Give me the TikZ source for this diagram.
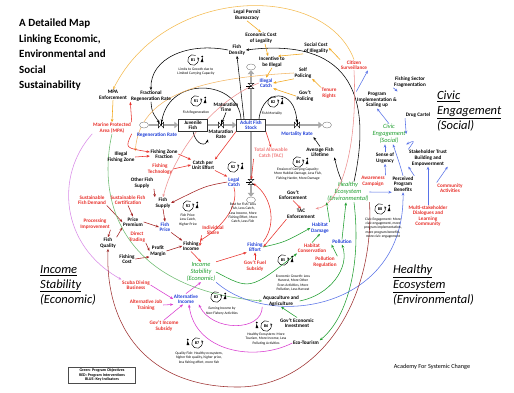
\documentclass[tikz,border=0pt]{standalone}
\usepackage{fontspec}
\setmainfont{Carlito}
\usetikzlibrary{arrows.meta,shapes.geometric}
\pgfdeclarelayer{bg}
\pgfdeclarelayer{paper}
\pgfsetlayers{paper,bg,main}
\definecolor{cred}{HTML}{E8302A}
\definecolor{cblue}{HTML}{1F3FD8}
\definecolor{cgreen}{HTML}{1E9E2E}
\definecolor{corange}{HTML}{F2A516}
\definecolor{cdred}{HTML}{A31F1F}
\definecolor{cmag}{HTML}{D93BD0}
\definecolor{carblue}{HTML}{5872E8}
\definecolor{cpipe}{HTML}{A9A9A9}
\definecolor{lpeach}{HTML}{F4B866}
\definecolor{lpink}{HTML}{EE9090}
\definecolor{lgreen}{HTML}{6DBB70}
\definecolor{lviolet}{HTML}{D98BE8}
\definecolor{cbrown}{HTML}{9E3030}
\definecolor{ctac}{HTML}{F07A7A}
\tikzset{
 v/.style={font=\fontsize{5.2}{5.6}\selectfont\bfseries, align=center, inner sep=0.6pt},
 rv/.style={v, text=cred},
 bv/.style={v, text=cblue},
 gv/.style={font=\fontsize{6.4}{6.9}\selectfont\itshape, align=center, text=cgreen, inner sep=0.6pt},
 desc/.style={font=\fontsize{3.6}{4.1}\selectfont, align=center, inner sep=0pt},
 cloudn/.style={ellipse, draw=gray, fill=white, line width=0.4pt, minimum width=9pt, minimum height=6pt, inner sep=0pt},
 stock/.style={v, draw=black!80, line width=0.5pt, fill=white, minimum width=29pt, minimum height=12pt},
 lk/.style={-{Stealth[length=3.2pt,width=2.6pt]}, line width=0.55pt},
 aBlk/.style={lk, black},
 aOrg/.style={lk, corange},
 aRed/.style={lk, cred},
 aDred/.style={lk, cdred},
 aMag/.style={lk, cmag},
 aGrn/.style={lk, cgreen},
 aBlu/.style={lk, carblue},
 aPeach/.style={lk, lpeach},
 aPink/.style={lk, lpink},
 aLgrn/.style={lk, lgreen},
 aViol/.style={lk, lviolet},
 aBrn/.style={lk, cbrown},
 tov/.style={shorten >=2.5pt},
 pipe/.style={line width=2.6pt, cpipe, -{Triangle[length=4pt,width=6.5pt]}},
 side/.style={font=\fontsize{12.5}{15}\selectfont\itshape, align=left, anchor=north west, inner sep=0pt},
 valveh/.pic={\draw[line width=0.4pt, fill=white] (-2.6,2.8) -- (2.6,-2.8) -- (2.6,2.8) -- (-2.6,-2.8) -- cycle;
   \draw[line width=0.4pt] (0,0) -- (0,5);},
 looppic/.pic={\draw[black, line width=0.45pt, -{Stealth[length=2pt,width=2pt]}] (60:5.3) arc (60:390:5.3);
   \node[font=\fontsize{4.2}{4.2}\selectfont\bfseries, inner sep=0pt] {#1};
   \fill (7.6,-2) -- (10.4,-2) -- (9.4,2.2) -- cycle; \fill (9.2,3.4) circle (1);},
 looppicl/.pic={\draw[black, line width=0.45pt, -{Stealth[length=2pt,width=2pt]}] (60:5.3) arc (60:390:5.3);
   \node[font=\fontsize{4.2}{4.2}\selectfont\bfseries, inner sep=0pt] {#1};
   \fill (-7.6,-2) -- (-10.4,-2) -- (-9.4,2.2) -- cycle; \fill (-9.2,3.4) circle (1);},
}
\begin{document}
\begin{tikzpicture}[x=1pt,y=1pt]
\begin{pgfonlayer}{paper}
\fill[white] (0,0) rectangle (514,-392);
\end{pgfonlayer}
\useasboundingbox (0,0) rectangle (514,-392);

% titles
\node[anchor=north west, font=\fontsize{11}{15.4}\selectfont\bfseries, align=left, inner sep=0pt] (title) at (19,-19) {A Detailed Map\\Linking Economic,\\Environmental and\\Social\\Sustainability};
\node[side] (sideE) at (40,-265) {\underline{Income}\\\underline{Stability}\\(Economic)};
\node[side] (sideH) at (393,-265) {\underline{Healthy}\\\underline{Ecosystem}\\(Environmental)};
\node[side] (sideC) at (437,-91) {\underline{Civic}\\\underline{Engagement}\\(Social)};
\node[draw=black!70, line width=0.4pt, font=\fontsize{4}{4.8}\selectfont\bfseries, align=center, inner sep=1.5pt, minimum width=67pt] (legend) at (102,-375) {Green: Program Objectives\\RED: Program Interventions\\BLUE: Key Indicators};
\node[font=\fontsize{6.2}{6.5}\selectfont] (acad) at (432,-367) {Academy For Systemic Change};

% variables
\node[v] (lpb) at (247,-15) {Legal Permit\\Bureacracy};
\node[v] (ecl) at (261,-38) {Economic Cost\\of Legality};
\node[v] (fd) at (237,-50) {Fish\\Density};
\node[v] (scl) at (316,-48) {Social Cost\\of Illegality};
\node[rv] (cit) at (354,-65) {Citizen\\Surveillance};
\node[v] (iti) at (272,-62) {Incentive to\\be Illegal};
\node[v] (sp) at (303,-73) {Self\\Policing};
\node[bv] (ic) at (266,-83) {Illegal\\Catch};
\node[v] (gp) at (305,-96) {Gov't\\Policing};
\node[rv] (tr) at (329,-93) {Tenure\\Rights};
\node[v] (mpae) at (113,-95) {MPA\\Enforcement};
\node[v] (frr) at (151,-96) {Fractional\\Regeneration Rate};
\node[v] (mt) at (226,-107) {Maturation\\Time};
\node[rv] (mpa) at (112,-128) {Marine Protected\\Area (MPA)};
\node[stock] (jf) at (193,-125) {Juvenile\\Fish};
\node[stock, text=cblue] (afs) at (251,-125) {Adult Fish\\Stock};
\node[bv] (rr) at (157,-135) {Regeneration Rate};
\node[v] (mr) at (221,-134) {Maturation\\Rate};
\node[bv] (mor) at (297,-134) {Mortality Rate};
\node[v] (ifz) at (121,-157) {Illegal\\Fishing Zone};
\node[v] (fzf) at (164,-154) {Fishing Zone\\Fraction};
\node[rv] (ft) at (160,-169) {Fishing\\Technology};
\node[v] (cpue) at (203,-165) {Catch per\\Unit Effort};
\node[v, text=ctac] (tac) at (271,-153) {Total Allowable\\Catch (TAC)};
\node[v] (afl) at (320,-152) {Average Fish\\Lifetime};
\node[bv] (lc) at (234,-182) {Legal\\Catch};
\node[v] (ofs) at (142,-183) {Other Fish\\Supply};
\node[v] (fs) at (163,-203) {Fish\\Supply};
\node[rv] (sfd) at (92,-200) {Sustainable\\Fish Demand};
\node[rv] (sfc) at (128,-200) {Sustainable Fish\\Certification};
\node[v] (pp) at (133,-222) {Price\\Premium};
\node[bv] (fp) at (165,-227) {Fish\\Price};
\node[rv] (pi) at (95,-224) {Processing\\Improvement};
\node[v] (fq) at (108,-243) {Fish\\Quality};
\node[rv] (dt) at (137,-237) {Direct\\Trading};
\node[v] (pm) at (158,-251) {Profit\\Margin};
\node[v] (fc) at (127,-259) {Fishing\\Cost};
\node[v] (fi) at (191,-246) {Fishing\\Income};
\node[rv] (is) at (213,-230) {Individual\\Share};
\node[v] (ge) at (293,-195) {Gov't\\Enforcement};
\node[v] (tace) at (301,-214) {TAC\\Enforcement};
\node[bv] (hd) at (320,-228) {Habitat\\Damage};
\node[bv] (fe) at (255,-247) {Fishing\\Effort};
\node[rv] (hc) at (312,-248) {Habitat\\Conservation};
\node[bv] (pol) at (342,-242) {Pollution};
\node[rv] (preg) at (325,-262) {Pollution\\Regulation};
\node[rv] (gfs) at (255,-266) {Gov't Fuel\\Subsidy};
\node[gv] (istab) at (201,-272) {Income\\Stability\\(Economic)};
\node[gv] (heco) at (348,-192) {Healthy\\Ecosystem\\(Environmental)};
\node[bv] (ai) at (186,-299) {Alternative\\Income};
\node[rv] (sdb) at (136,-285) {Scuba Diving\\Business};
\node[rv] (ajt) at (146,-305) {Alternative Job\\Training};
\node[rv] (gis) at (164,-326) {Gov't Income\\Subsidy};
\node[v] (aa) at (281,-301) {Aquaculture and\\Agriculture};
\node[v] (gei) at (297,-323) {Gov't Economic\\Investment};
\node[v] (et) at (306,-343) {Eco-Tourism};
\node[v] (fsf) at (410,-82) {Fishing Sector\\Fragmentation};
\node[v] (pis) at (377,-100) {Program\\Implementation \&\\Scaling up};
\node[v] (dc) at (418,-115) {Drug Cartel};
\node[gv] (ce) at (389,-134) {Civic\\Engagement\\(Social)};
\node[v] (sou) at (385,-158) {Sense of\\Urgency};
\node[v] (stbe) at (428,-158) {Stakeholder Trust\\Building and\\Empowerment};
\node[rv] (ac) at (373,-181) {Awareness\\Campaign};
\node[v] (ppb) at (403,-184) {Perceived\\Program\\Benefits};
\node[rv] (ca) at (450,-188) {Community\\Activities};
\node[rv] (msd) at (428,-216) {Multi-stakeholder\\Dialogues and\\Learning\\Community};

% clouds and valves
\node[cloudn] (cl1) at (144,-125) {};
\node[cloudn] (cl3) at (327,-125) {};
\node[cloudn] (cl4) at (251,-67) {};
\node[cloudn] (cl5) at (251,-200) {};
\coordinate (v1) at (161,-125);
\coordinate (v2) at (221,-125);
\coordinate (v3) at (297,-125);
\coordinate (v4) at (251,-86);
\coordinate (v5) at (251,-182);

% loop labels
\pic at (193,-60) {looppic=B1};
\node[desc] (dB1) at (196,-72) {Limits to Growth due to\\Limited Carrying Capacity};
\pic at (196,-101) {looppic=R1};
\node[desc] (dR1) at (196,-113) {Fish Regeneration};
\pic at (273,-102) {looppic=B2};
\node[desc] (dB2) at (272,-114) {Fish Mortality};
\pic at (233,-167) {looppic=R2};
\pic at (188,-206) {looppic=R3};
\node[desc] (dR3) at (188,-220) {Fish Price:\\Less Catch,\\Higher Price};
\pic at (298,-162) {looppic=B4};
\node[desc] (dB4) at (298,-174) {Erosion of Carrying Capacity:\\More Habitat Damage, Less Fish,\\Fishing Harder, More Damage};
\node[desc] (dRest) at (243,-213) {Rest for Fish: Less\\Fish, Less Catch,\\Less Income, More\\Fishing Effort, More\\Catch, Less Fish};
\pic at (283,-260) {looppic=B5};
\node[desc] (dB5) at (293,-283) {Economic Growth: Less\\Harvest, More Other\\Econ Activities, More\\Pollution, Less Harvest};
\pic at (216,-297) {looppic=B3};
\node[desc] (dB3) at (222,-311) {Earning Income by\\Non-Fishery Activities};
\pic at (266,-326) {looppicl=B6};
\node[desc] (dB6) at (266,-339) {Healthy Ecosystem: More\\Tourism, More Income, Less\\Polluting Activities};
\pic at (197,-343) {looppicl=B7};
\node[desc] (dB7) at (199,-358) {Quality Fish: Healthy ecosystem,\\higher fish quality, higher price,\\less fishing effort, more fish};
\pic at (380,-209) {looppic=B8};
\node[desc] (dB8) at (383,-228) {Civic Engagement: More\\civic engagement, more\\program implementation,\\more program benefits,\\more civic engagement};

\begin{pgfonlayer}{bg}
% pipes
\draw[pipe] (cl1) -- (jf);
\draw[pipe] (jf) -- (afs);
\draw[pipe] (afs) -- (cl3);
\draw[pipe] (afs) -- (cl4);
\draw[pipe] (afs) -- (cl5);

% black stock-flow links
\draw[aBlk] (fd.west) .. controls (188,-42) and (150,-58) .. (frr.north);
\draw[aBlk] ([xshift=6pt]heco.north) .. controls (374,-90) and (345,-38) .. (fd.east);
\draw[aBlk] ([xshift=-7pt]afs.north) -- (fd.south);
\draw[aBlk, tov] ([xshift=-10pt]afs.north) .. controls (238,-80) and (170,-75) .. (v1);
\draw[aBlk, tov] (frr.south) .. controls (152,-112) .. (v1);
\draw[aBlk] (jf.south) .. controls (196,-146) and (206,-146) .. (mr.south west);
\draw[aBlk, tov] (mt.south) -- (v2);
\draw[aBlk, tov] ([xshift=8pt]afs.north) .. controls (263,-88) and (295,-88) .. (v3);
\draw[aBlk] (afl.north) -- (mor.south east);
\draw[aBlk] ([xshift=-6pt]heco.north) .. controls (338,-172) .. (afl.south east);

% orange
\draw[aOrg] (lpb.south) -- (ecl.north);
\draw[aOrg] ([xshift=4pt]ecl.south) -- ([xshift=-4pt]iti.north);
\draw[aOrg] (scl.south west) -- ([xshift=6pt]iti.north);
\draw[aOrg] (iti.south) -- (ic.north);
\draw[aOrg] (sp.south west) -- (ic.east);
\draw[aOrg] (gp.west) -- (ic.south east);
\draw[aOrg] (tr.north west) -- (sp.south east);
\draw[aOrg] (cit.north west) -- (scl.east);
\draw[aOrg, corange!75] (cit.north) .. controls (325,18) and (165,15) .. (mpae.north);
\draw[aOrg] (mpae.south) -- (mpa.north);
\draw[aPeach] (sp.west) .. controls (200,-78) and (140,-95) .. (ifz.north east);

% red
\draw[aRed] (mpa.north east) -- (frr.south west);
\draw[aRed] (mpa.south east) .. controls (125,-148) .. ([yshift=2pt]fzf.west);
\draw[aRed] (ifz.east) -- ([yshift=-2pt]fzf.west);
\draw[aRed] (fzf.east) -- (cpue.north west);
\draw[aRed] (afs.south west) -- (cpue.north east);
\draw[aRed] (ft.east) -- (cpue.west);
\draw[aRed] (cpue.south east) -- (lc.north west);
\draw[aRed] (afs.south east) -- (tac.north);
\draw[aRed, tov] (tac.south west) -- (v5);
\draw[aRed, tov] (fe.north east) .. controls (278,-222) and (270,-195) .. (v5);
\draw[aDred] (lc.west) .. controls (205,-186) .. (fs.east);
\draw[aRed] (lc.south) .. controls (240,-210) and (215,-232) .. (fi.north east);
\draw[aRed] (is.south west) -- (fi.east);
\draw[aDred] (fp.south east) -- (fi.north west);
\draw[aDred] (pm.east) -- (fi.west);
\draw[aRed] (fi.south) -- (istab.north);
\draw[aRed] (istab.north east) -- (fe.south west);
\draw[aRed] (gfs.north) -- (fe.south);
\draw[aRed] (tace.south west) -- (fe.east);
\draw[aRed] (ge.south) -- (tace.north);
\draw[aPink] (cit.south) .. controls (358,-150) and (340,-205) .. (tace.north east);
\draw[aPink] (ic.west) .. controls (215,-100) and (175,-150) .. (fs.north);

% dark red economics
\draw[aDred] (sfd.south east) -- (pp.west);
\draw[aDred] (sfc.south) -- (pp.north);
\draw[aDred] (pp.east) -- (fp.west);
\draw[aDred] (pi.south east) -- (fq.north);
\draw[aDred] (fq.north east) -- (pp.south west);
\draw[aDred] (ofs.south east) -- (fs.north west);
\draw[aDred] (fs.south) -- (fp.north);
\draw[aDred] (dt.south east) -- (pm.west);
\draw[aDred] (fc.east) -- (pm.south west);

% magenta
\draw[aViol] (mpa.south west) .. controls (55,-175) and (60,-245) .. (sdb.north west);
\draw[aMag] (sdb.east) -- (ai.west);
\draw[aMag] (ajt.east) -- (ai.south west);
\draw[aMag] (gis.north) -- ([xshift=-3pt]ai.south);
\draw[aMag] (ai.north) -- (istab.south);
\draw[aMag] (aa.south west) .. controls (262,-332) and (212,-332) .. (ai.south east);
\draw[aMag] (et.west) .. controls (255,-362) and (195,-352) .. ([xshift=3pt]ai.south);

% green
\draw[aGrn] (fe.east) .. controls (285,-242) .. (hd.west);
\draw[aGrn] (hd.north east) -- (heco.south west);
\draw[aGrn] (pol.north) -- ([xshift=-2pt]heco.south);
\draw[aGrn] (preg.north east) -- (pol.south west);
\draw[aGrn] (hc.north) -- (hd.south);
\draw[aGrn] (gei.north) -- (aa.south);
\draw[aGrn] (aa.east) .. controls (330,-295) and (350,-268) .. (pol.south);
\draw[aGrn] ([xshift=6pt]heco.south) .. controls (362,-270) and (345,-320) .. (et.north east);
\draw[aLgrn] (mpa.south) .. controls (95,-210) and (130,-290) .. (aa.west);
\draw[aGrn] (istab.east) .. controls (250,-290) .. (hc.south west);

% blue
\draw[aBlu] (pis.north west) -- (cit.south east);
\draw[aBlu] (fsf.south west) -- (pis.north east);
\draw[aBlu] (ce.north) -- (pis.south);
\draw[aBlu] (dc.south west) -- (ce.east);
\draw[aBlu] (sou.north) -- ([xshift=-4pt]ce.south);
\draw[aBlu] (ac.north east) -- (sou.south);
\draw[aBlu] (stbe.north west) .. controls (415,-140) .. (ce.south east);
\draw[aBlu] (ppb.north) .. controls (400,-165) .. ([xshift=4pt]ce.south);
\draw[aBlu] (ppb.north east) -- (stbe.south west);
\draw[aBlu] (ca.north west) -- (stbe.south east);
\draw[aBlu] (msd.north) -- (stbe.south);
\draw[aBlu] (heco.east) -- (ppb.south west);
\draw[aBlu] (istab.south east) .. controls (270,-330) and (405,-310) .. (ppb.south);

% brown big loop
\draw[aBrn] (heco.south east) .. controls (375,-300) and (320,-385) .. (240,-387) .. controls (150,-388) and (105,-330) .. (fq.south);
\end{pgfonlayer}

% valves on top of pipes
\pic at (v1) {valveh};
\pic at (v2) {valveh};
\pic at (v3) {valveh};
\pic[rotate=90] at (v4) {valveh};
\pic[rotate=90] at (v5) {valveh};
\end{tikzpicture}
\end{document}
